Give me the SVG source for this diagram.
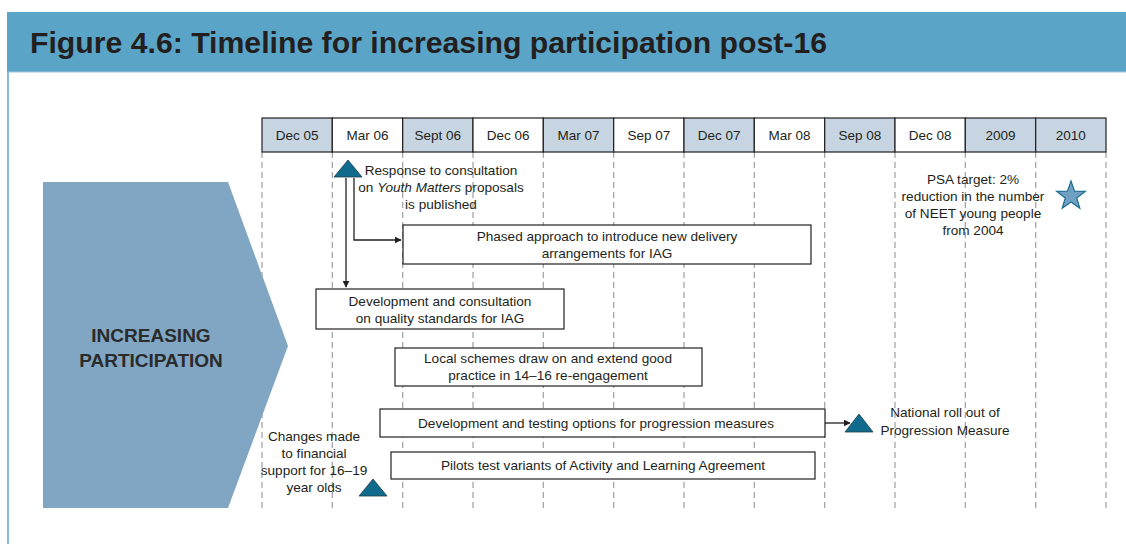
<svg xmlns="http://www.w3.org/2000/svg" width="1126" height="544" viewBox="0 0 1126 544">
<defs>
<style>
.t{font-family:"Liberation Sans",Arial,sans-serif;font-size:13.6px;fill:#231f20;text-anchor:middle}
.hd{font-family:"Liberation Sans",Arial,sans-serif;font-size:13.5px;fill:#231f20;text-anchor:middle}
.box{fill:#fff;stroke:#231f20;stroke-width:1.2}
.cl{fill:#c6d5e1;stroke:#231f20;stroke-width:1.2}
.cw{fill:#fff;stroke:#231f20;stroke-width:1.2}
.dash{stroke:#9b9ea3;stroke-width:1.2;stroke-dasharray:6 4;fill:none}
.tri{fill:#0f6a8c;stroke:#1d3f52;stroke-width:0.8}
.con{stroke:#231f20;stroke-width:1.3;fill:none;marker-end:url(#ah)}
.big{font-family:"Liberation Sans",Arial,sans-serif;font-weight:bold;font-size:19px;fill:#2b2b2b;text-anchor:middle}
</style>
<marker id="ah" viewBox="0 0 10 10" refX="9" refY="5" markerWidth="7" markerHeight="7" markerUnits="userSpaceOnUse" orient="auto"><path d="M0,0 L10,5 L0,10 Z" fill="#231f20"/></marker>
</defs>
<rect x="0" y="0" width="1126" height="544" fill="#fff"/>
<g id="frame">
<rect x="7" y="12" width="1119" height="60" fill="#5aa4c7"/>
<line x1="8" y1="72" x2="8" y2="544" stroke="#5aa4c7" stroke-width="1.5"/>
<line x1="7" y1="72" x2="1126" y2="72" stroke="#9cc6dc" stroke-width="1"/>
<text x="30" y="53" font-family="'Liberation Sans',Arial,sans-serif" font-weight="bold" font-size="29" fill="#231f20" textLength="797" lengthAdjust="spacingAndGlyphs">Figure 4.6: Timeline for increasing participation post-16</text>
</g>
<g id="gridlines">
<line class="dash" x1="262" y1="152" x2="262" y2="508"/>
<line class="dash" x1="332.3" y1="152" x2="332.3" y2="508"/>
<line class="dash" x1="402.7" y1="152" x2="402.7" y2="508"/>
<line class="dash" x1="473" y1="152" x2="473" y2="508"/>
<line class="dash" x1="543.3" y1="152" x2="543.3" y2="508"/>
<line class="dash" x1="613.7" y1="152" x2="613.7" y2="508"/>
<line class="dash" x1="684" y1="152" x2="684" y2="508"/>
<line class="dash" x1="754.3" y1="152" x2="754.3" y2="508"/>
<line class="dash" x1="824.7" y1="152" x2="824.7" y2="508"/>
<line class="dash" x1="895" y1="152" x2="895" y2="508"/>
<line class="dash" x1="965.3" y1="152" x2="965.3" y2="508"/>
<line class="dash" x1="1035.7" y1="152" x2="1035.7" y2="508"/>
<line class="dash" x1="1106" y1="152" x2="1106" y2="508"/>
</g>
<g id="header">
<rect class="cl" x="262" y="118" width="70.3" height="34"/><text class="hd" x="297.2" y="140">Dec 05</text>
<rect class="cw" x="332.3" y="118" width="70.3" height="34"/><text class="hd" x="367.5" y="140">Mar 06</text>
<rect class="cl" x="402.7" y="118" width="70.3" height="34"/><text class="hd" x="437.8" y="140">Sept 06</text>
<rect class="cw" x="473" y="118" width="70.3" height="34"/><text class="hd" x="508.2" y="140">Dec 06</text>
<rect class="cl" x="543.3" y="118" width="70.3" height="34"/><text class="hd" x="578.5" y="140">Mar 07</text>
<rect class="cw" x="613.7" y="118" width="70.3" height="34"/><text class="hd" x="648.8" y="140">Sep 07</text>
<rect class="cl" x="684" y="118" width="70.3" height="34"/><text class="hd" x="719.2" y="140">Dec 07</text>
<rect class="cw" x="754.3" y="118" width="70.3" height="34"/><text class="hd" x="789.5" y="140">Mar 08</text>
<rect class="cl" x="824.7" y="118" width="70.3" height="34"/><text class="hd" x="859.8" y="140">Sep 08</text>
<rect class="cw" x="895" y="118" width="70.3" height="34"/><text class="hd" x="930.2" y="140">Dec 08</text>
<rect class="cl" x="965.3" y="118" width="70.3" height="34"/><text class="hd" x="1000.5" y="140">2009</text>
<rect class="cl" x="1035.7" y="118" width="70.3" height="34"/><text class="hd" x="1070.8" y="140">2010</text>
</g>
<g id="chevron">
<polygon points="43,182 228,182 288,346 228,508 43,508" fill="#80a6c3"/>
<text class="big" x="151" y="342">INCREASING</text>
<text class="big" x="151" y="367">PARTICIPATION</text>
</g>
<g id="connectors">
<line class="con" x1="346" y1="178" x2="346" y2="287"/>
<polyline class="con" points="354,178 354,240 401,240"/>
<line class="con" x1="825" y1="423" x2="850" y2="423"/>
</g>
<g id="response">
<polygon class="tri" points="348,160 334,177 362,177"/>
<text class="t" x="441" y="175">Response to consultation</text>
<text class="t" x="441" y="192">on <tspan font-style="italic">Youth Matters</tspan> proposals</text>
<text class="t" x="441" y="209">is published</text>
</g>
<g id="phased">
<rect class="box" x="403" y="225" width="408" height="39"/>
<text class="t" x="607" y="241">Phased approach to introduce new delivery</text>
<text class="t" x="607" y="258">arrangements for IAG</text>
</g>
<g id="quality">
<rect class="box" x="316" y="289" width="248" height="40"/>
<text class="t" x="440" y="306">Development and consultation</text>
<text class="t" x="440" y="323">on quality standards for IAG</text>
</g>
<g id="local">
<rect class="box" x="395" y="348" width="307" height="38"/>
<text class="t" x="548" y="363">Local schemes draw on and extend good</text>
<text class="t" x="548" y="380">practice in 14–16 re-engagement</text>
</g>
<g id="progression">
<rect class="box" x="380" y="409" width="445" height="28"/>
<text class="t" x="596" y="428">Development and testing options for progression measures</text>
</g>
<g id="national">
<polygon class="tri" points="859,414 845,432 873,432"/>
<text class="t" x="945" y="417">National roll out of</text>
<text class="t" x="945" y="435">Progression Measure</text>
</g>
<g id="pilots">
<rect class="box" x="391" y="452" width="424" height="27"/>
<text class="t" x="603" y="470">Pilots test variants of Activity and Learning Agreement</text>
</g>
<g id="financial">
<polygon class="tri" points="373,479 359,496 387,496"/>
<text class="t" x="314" y="441">Changes made</text>
<text class="t" x="314" y="458">to financial</text>
<text class="t" x="314" y="475">support for 16–19</text>
<text class="t" x="314" y="492">year olds</text>
</g>
<g id="psa">
<text class="t" x="973" y="184">PSA target: 2%</text>
<text class="t" x="973" y="201">reduction in the number</text>
<text class="t" x="973" y="218">of NEET young people</text>
<text class="t" x="973" y="235">from 2004</text>
<polygon points="1071,181 1074.5,191.2 1085.3,191.4 1076.7,197.9 1079.8,208.2 1071,202 1062.2,208.2 1065.3,197.9 1056.7,191.4 1067.5,191.2" fill="#6fa0c4" stroke="#1b6b8f" stroke-width="1.2"/>
</g>
</svg>
